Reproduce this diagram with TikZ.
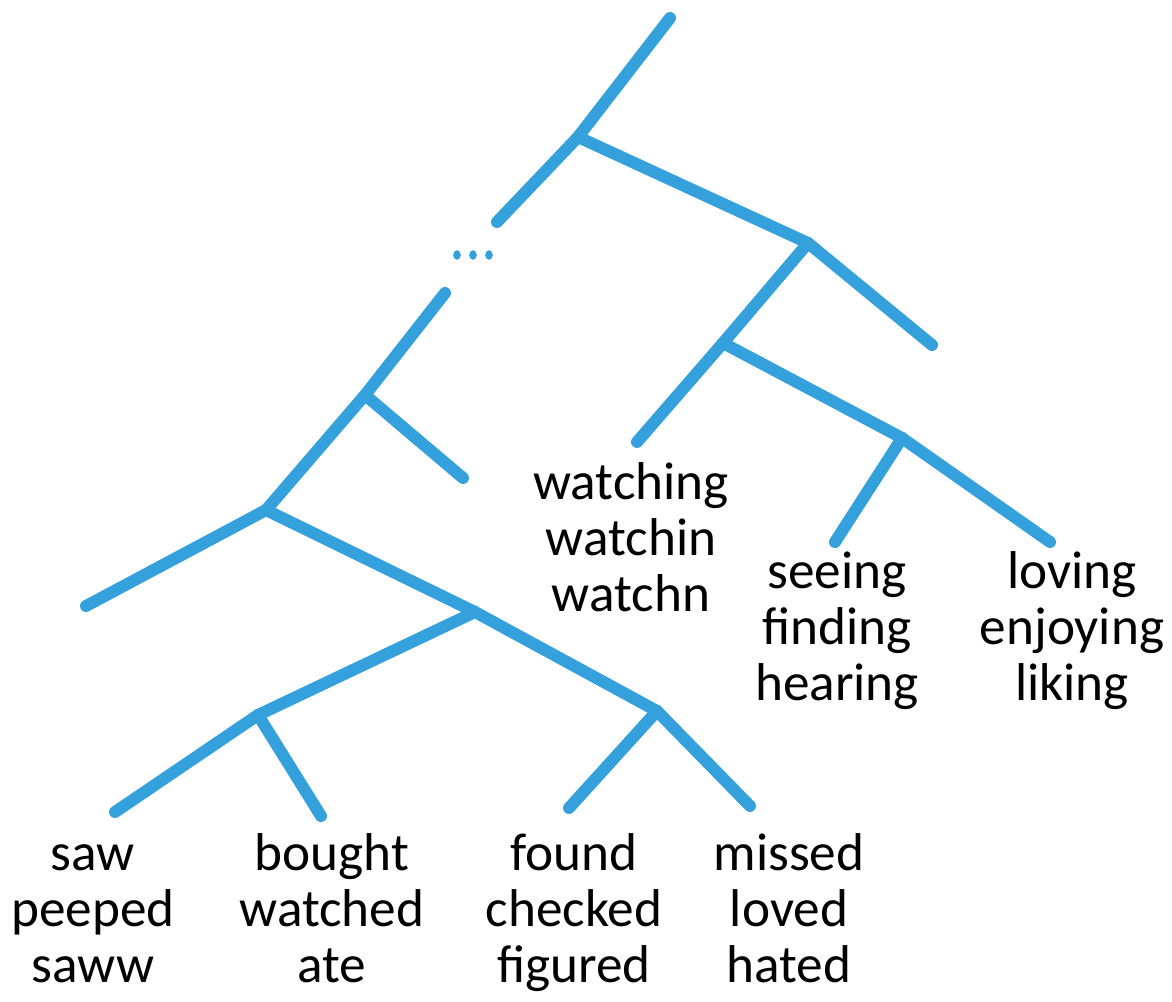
\documentclass[tikz,border=0pt]{standalone}
\usepackage{fontspec}
\setmainfont{Carlito}
\usetikzlibrary{positioning}
\definecolor{branchblue}{RGB}{52,160,220}
\tikzset{
  branch/.style={line width=6.8pt, branchblue, line cap=round, line join=round},
  leaf/.style={font=\fontsize{30.3}{31.8}\selectfont, align=center, anchor=base,
               inner sep=0pt},
}

\begin{document}
\begin{tikzpicture}[x=0.02cm,y=-0.02cm]
  \useasboundingbox (0,0) rectangle (1172,1001);
  % --- Verzweigungspunkte ---
  \coordinate (top) at (670,18);
  \coordinate (n1) at (578,137);
  \coordinate (cutA) at (497,222);
  \coordinate (n2) at (808,243);
  \coordinate (r2) at (932,345);
  \coordinate (n3) at (723,343);
  \coordinate (endWatch) at (637,442);
  \coordinate (n4) at (902,438);
  \coordinate (endSee) at (835,542);
  \coordinate (endLove) at (1050,542);
  \coordinate (cutB) at (445,293);
  \coordinate (n5) at (365,395);
  \coordinate (r5) at (463,478);
  \coordinate (n6) at (266,510);
  \coordinate (l6) at (86,606);
  \coordinate (n7) at (475,612);
  \coordinate (n8) at (258,715);
  \coordinate (n9) at (657,711);
  \coordinate (endSaw) at (115,812);
  \coordinate (endBought) at (321,816);
  \coordinate (endFound) at (569,808);
  \coordinate (endMissed) at (750,806);

  % --- Aeste ---
  \foreach \a/\b in {top/n1,n1/cutA,n1/n2,n2/r2,n2/n3,n3/endWatch,n3/n4,
                     n4/endSee,n4/endLove,cutB/n5,n5/r5,n5/n6,n6/l6,n6/n7,
                     n7/n8,n7/n9,n8/endSaw,n8/endBought,n9/endFound,n9/endMissed}{
    \draw[branch] (\a) -- (\b);
  }
  % Auslassung
  \foreach \x in {457,473,489}{
    \fill[branchblue] (\x,255) ellipse (3.8 and 4.8);
  }

  % --- Wortgruppen (Anker: Grundlinie der letzten Zeile) ---
  \node[leaf] (wWatch) at (631,611) {watching\\watchin\\watchn};
  \node[leaf] (wSee) at (837,700) {seeing\\finding\\hearing};
  \node[leaf] (wLove) at (1072,700) {loving\\enjoying\\liking};
  \node[leaf] (wSaw) at (93,982) {saw\\peeped\\saww};
  \node[leaf] (wBought) at (332,982) {bought\\watched\\ate};
  \node[leaf] (wFound) at (574,982) {found\\checked\\figured};
  \node[leaf] (wMissed) at (789,982) {missed\\loved\\hated};
\end{tikzpicture}
\end{document}
